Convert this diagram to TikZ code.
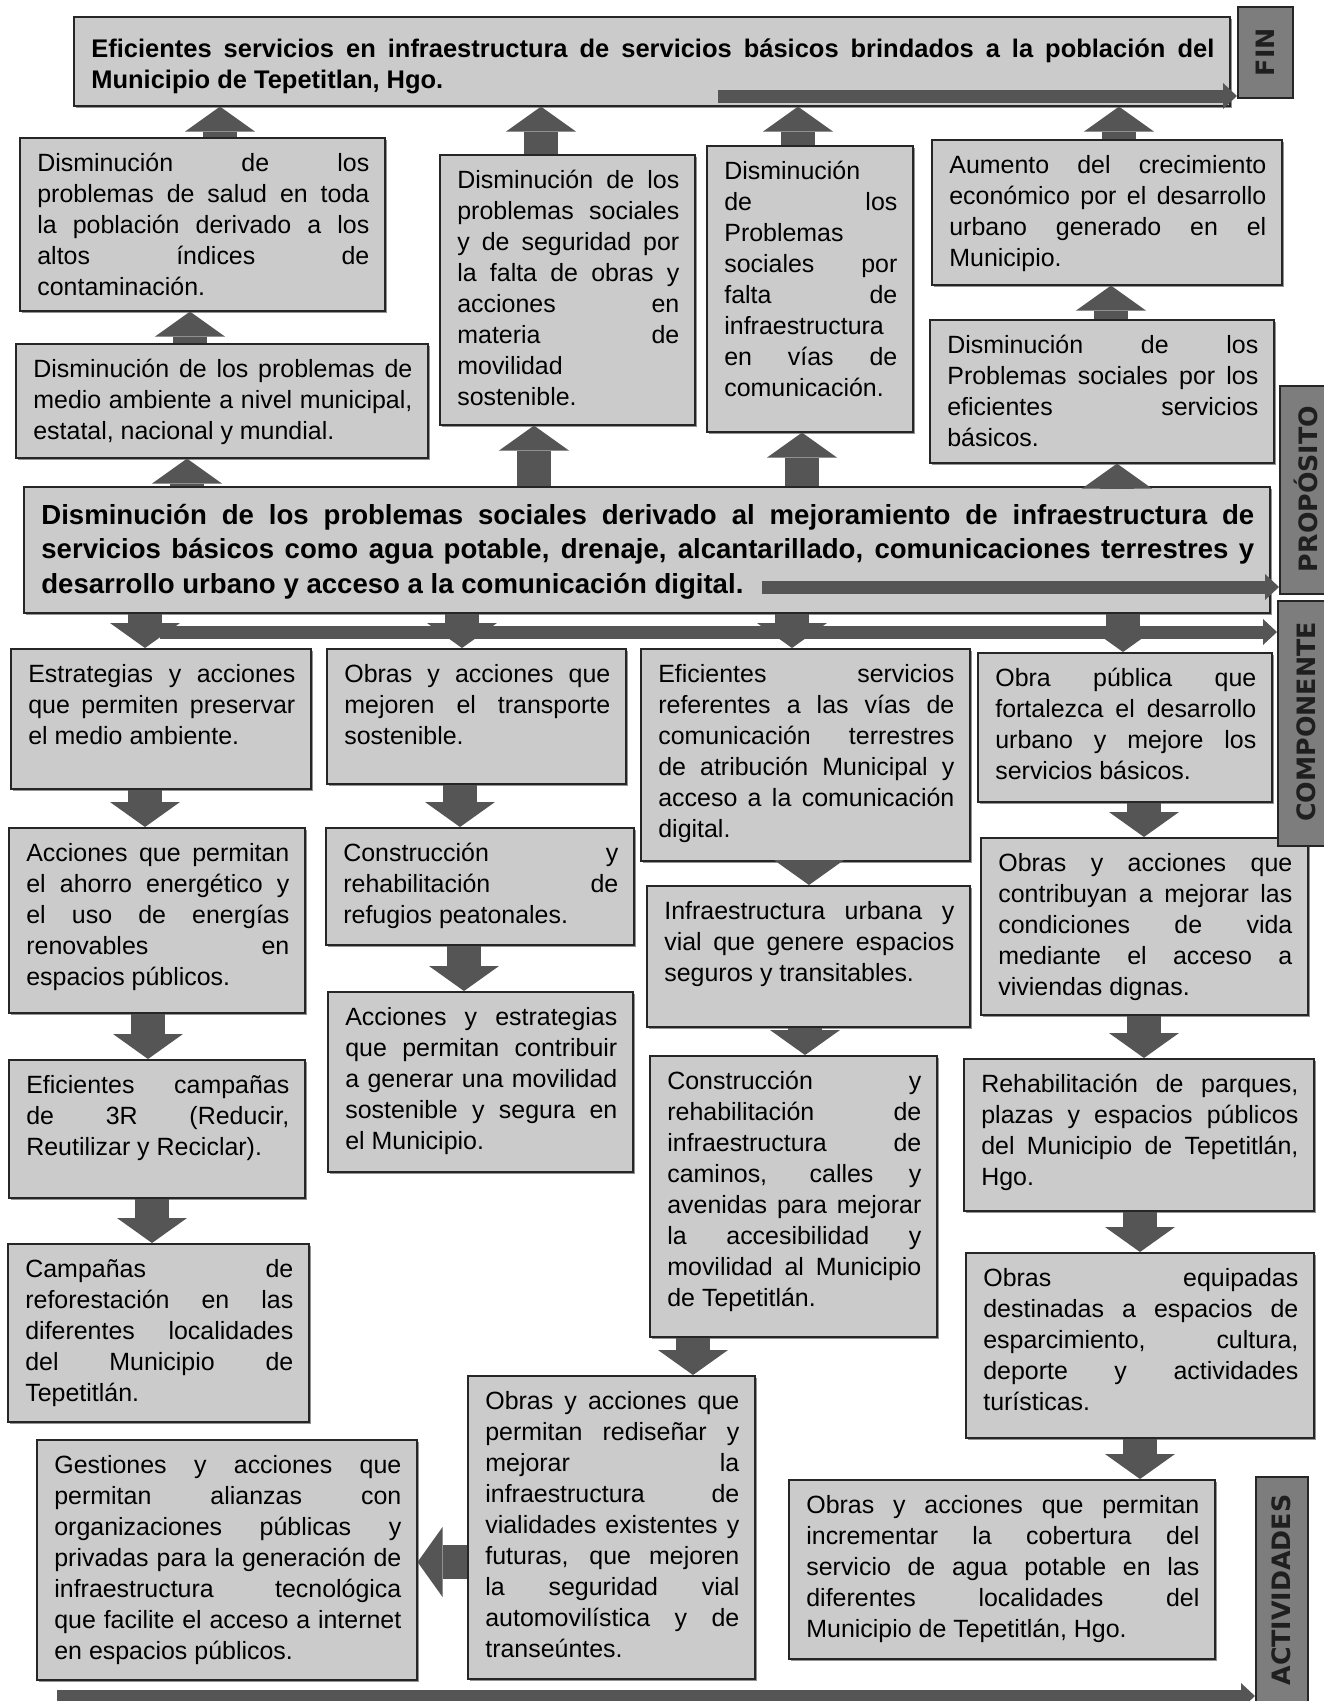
\documentclass[tikz,border=0pt]{standalone}
\usepackage{fontspec}
\setmainfont{Liberation Sans}
\newfontfamily\rotulofont{DejaVu Sans}
\usetikzlibrary{arrows.meta,calc,positioning,shadows}

\definecolor{cajagris}{RGB}{203,203,203}
\definecolor{flechagris}{RGB}{85,85,85}
\definecolor{rotulogris}{RGB}{125,125,125}

\hyphenpenalty=10000
\exhyphenpenalty=10000
\tolerance=10000
\hbadness=10000

\tikzset{
  caja/.style={draw=black!85, line width=0.9pt, fill=cajagris, inner sep=0pt,
    drop shadow={shadow xshift=1.2pt, shadow yshift=-1.2pt, fill=black!60, opacity=.7}},
  texto/.style={inner sep=0pt, align=justify, font=\fontsize{14.2}{17.7}\selectfont},
  textofin/.style={texto, font=\fontsize{14.5}{17.8}\selectfont\bfseries, yshift=-0.14cm},
  textoprop/.style={texto, font=\fontsize{15.7}{19.9}\selectfont\bfseries, yshift=-0.08cm},
  flecha/.style={flechagris, line width=0.68cm, -{Triangle[length=0.5cm, width=1.4cm, line width=0pt 0 0]}},
  barra/.style={flechagris, line width=0.26cm, -{Triangle[length=0.28cm, width=0.52cm, line width=0pt 0 0]}},
  rotulo/.style={draw=black!85, line width=0.9pt, fill=rotulogris, inner sep=0pt},
  rotulotexto/.style={rotate=90, inner sep=0pt, text=black!88,
    font=\rotulofont\bfseries\fontsize{14.4}{17}\selectfont},
}

% caja con texto arriba: [estilo]{nombre}{x1}{y1}{x2}{y2}{texto}
\newcommand{\caja}[7][texto]{%
  \node[caja, anchor=north west, minimum width={(#5-#3)*0.02cm},
    minimum height={(#6-#4)*0.02cm}] (#2) at (#3,#4) {};
  \pgfmathsetmacro{\anchotexto}{(#5-#3-33)*0.02}%
  \node[#1, anchor=base west, text width=\anchotexto cm] (#2t)
    at ([shift={(18,34)}]#2.north west) {#7};
}

\begin{document}
\begin{tikzpicture}[x=0.02cm, y=-0.02cm]
  \useasboundingbox (0,0) rectangle (1324,1701);
  \clip (0,0) rectangle (1324,1701);
  \fill[white] (0,0) rectangle (1324,1701);

  % fin
  \caja[textofin]{fin}{73}{16}{1229}{105}{Eficientes servicios en infraestructura de servicios básicos brindados a la población del\linebreak Municipio de Tepetitlan, Hgo.}

  % efectos
  \caja{salud}{19}{137}{384}{310}{Disminución de los\linebreak problemas de salud en toda\linebreak la población derivado a los\linebreak altos índices de\linebreak contaminación.}
  \caja{ambiente}{15}{343}{427}{457}{Disminución de los problemas de\linebreak medio ambiente a nivel municipal,\linebreak estatal, nacional y mundial.}
  \caja{seguridad}{439}{154}{694}{424}{Disminución de los\linebreak problemas sociales\linebreak y de seguridad por\linebreak la falta de obras y\linebreak acciones en\linebreak materia de\linebreak movilidad\linebreak sostenible.}
  \caja{vias}{706}{145}{912}{431}{Disminución\linebreak de los\linebreak Problemas\linebreak sociales por\linebreak falta de\linebreak infraestructura\linebreak en vías de\linebreak comunicación.}
  \caja{economico}{931}{139}{1281}{284}{Aumento del crecimiento\linebreak económico por el desarrollo\linebreak urbano generado en el\linebreak Municipio.}
  \caja{servicios}{929}{319}{1273}{462}{Disminución de los\linebreak Problemas sociales por los\linebreak eficientes servicios\linebreak básicos.}

  % proposito
  \caja[textoprop]{proposito}{23}{486}{1269}{612}{Disminución de los problemas sociales derivado al mejoramiento de infraestructura de\linebreak servicios básicos como agua potable, drenaje, alcantarillado, comunicaciones terrestres y\linebreak desarrollo urbano y acceso a la comunicación digital.}

  % componentes
  \caja{medio}{10}{648}{310}{788}{Estrategias y acciones\linebreak que permiten preservar\linebreak el medio ambiente.}
  \caja{transporte}{326}{648}{625}{783}{Obras y acciones que\linebreak mejoren el transporte\linebreak sostenible.}
  \caja{comunicacion}{640}{648}{969}{860}{Eficientes servicios\linebreak referentes a las vías de\linebreak comunicación terrestres\linebreak de atribución Municipal y\linebreak acceso a la comunicación\linebreak digital.}
  \caja{urbano}{977}{652}{1271}{801}{Obra pública que\linebreak fortalezca el desarrollo\linebreak urbano y mejore los\linebreak servicios básicos.}

  % actividades
  \caja{act11}{8}{827}{304}{1012}{Acciones que permitan\linebreak el ahorro energético y\linebreak el uso de energías\linebreak renovables en\linebreak espacios públicos.}
  \caja{act12}{8}{1059}{304}{1197}{Eficientes campañas\linebreak de 3R (Reducir,\linebreak Reutilizar y Reciclar).}
  \caja{act13}{7}{1243}{308}{1421}{Campañas de\linebreak reforestación en las\linebreak diferentes localidades\linebreak del Municipio de\linebreak Tepetitlán.}
  \caja{act21}{325}{827}{633}{944}{Construcción y\linebreak rehabilitación de\linebreak refugios peatonales.}
  \caja{act22}{327}{991}{632}{1171}{Acciones y estrategias\linebreak que permitan contribuir\linebreak a generar una movilidad\linebreak sostenible y segura en\linebreak el Municipio.}
  \caja{act31}{646}{885}{969}{1026}{Infraestructura urbana y\linebreak vial que genere espacios\linebreak seguros y transitables.}
  \caja{act32}{649}{1055}{936}{1336}{Construcción y\linebreak rehabilitación de\linebreak infraestructura de\linebreak caminos, calles y\linebreak avenidas para mejorar\linebreak la accesibilidad y\linebreak movilidad al Municipio\linebreak de Tepetitlán.}
  \caja{act33}{467}{1375}{754}{1678}{Obras y acciones que\linebreak permitan rediseñar y\linebreak mejorar la\linebreak infraestructura de\linebreak vialidades existentes y\linebreak futuras, que mejoren\linebreak la seguridad vial\linebreak automovilística y de\linebreak transeúntes.}
  \caja{act34}{36}{1439}{416}{1679}{Gestiones y acciones que\linebreak permitan alianzas con\linebreak organizaciones públicas y\linebreak privadas para la generación de\linebreak infraestructura tecnológica\linebreak que facilite el acceso a internet\linebreak en espacios públicos.}
  \caja{act41}{980}{837}{1307}{1014}{Obras y acciones que\linebreak contribuyan a mejorar las\linebreak condiciones de vida\linebreak mediante el acceso a\linebreak viviendas dignas.}
  \caja{act42}{963}{1058}{1313}{1210}{Rehabilitación de parques,\linebreak plazas y espacios públicos\linebreak del Municipio de Tepetitlán,\linebreak Hgo.}
  \caja{act43}{965}{1252}{1313}{1437}{Obras equipadas\linebreak destinadas a espacios de\linebreak esparcimiento, cultura,\linebreak deporte y actividades\linebreak turísticas.}
  \caja{act44}{788}{1479}{1214}{1658}{Obras y acciones que permitan\linebreak incrementar la cobertura del\linebreak servicio de agua potable en las\linebreak diferentes localidades del\linebreak Municipio de Tepetitlán, Hgo.}

  % flechas hacia el fin
  \draw[flecha] (salud.north -| 220,0) -- (fin.south -| 220,0);
  \draw[flecha] (seguridad.north -| 541,0) -- (fin.south -| 541,0);
  \draw[flecha] (vias.north -| 798,0) -- (fin.south -| 798,0);
  \draw[flecha] (economico.north -| 1119,0) -- (fin.south -| 1119,0);
  \draw[flecha] (ambiente.north -| 190,0) -- (salud.south -| 190,0);
  \draw[flecha] (servicios.north -| 1111,0) -- (economico.south -| 1111,0);
  \draw[flecha] (proposito.north -| 187,0) -- (ambiente.south -| 187,0);
  \draw[flecha] (proposito.north -| 534,0) -- (seguridad.south -| 534,0);
  \draw[flecha] (proposito.north -| 802,0) -- (vias.south -| 802,0);
  \draw[flecha] (proposito.north -| 1117,0) -- (servicios.south -| 1117,0);

  % flechas hacia componentes y actividades
  \draw[flecha] (proposito.south -| 145,0) -- (medio.north -| 145,0);
  \draw[flecha] (proposito.south -| 462,0) -- (transporte.north -| 462,0);
  \draw[flecha] (proposito.south -| 792,0) -- (comunicacion.north -| 792,0);
  \draw[flecha] (proposito.south -| 1123,0) -- (urbano.north -| 1123,0);
  \draw[flecha] (medio.south -| 145,0) -- (act11.north -| 145,0);
  \draw[flecha] (act11.south -| 148,0) -- (act12.north -| 148,0);
  \draw[flecha] (act12.south -| 152,0) -- (act13.north -| 152,0);
  \draw[flecha] (transporte.south -| 460,0) -- (act21.north -| 460,0);
  \draw[flecha] (act21.south -| 464,0) -- (act22.north -| 464,0);
  \draw[flecha] (comunicacion.south -| 809,0) -- (act31.north -| 809,0);
  \draw[flecha] (act31.south -| 805,0) -- (act32.north -| 805,0);
  \draw[flecha] (act32.south -| 693,0) -- (act33.north -| 693,0);
  \draw[flecha] (act33.west |- 0,1562) -- (act34.east |- 0,1562);
  \draw[flecha] (urbano.south -| 1144,0) -- (act41.north -| 1144,0);
  \draw[flecha] (act41.south -| 1144,0) -- (act42.north -| 1144,0);
  \draw[flecha] (act42.south -| 1140,0) -- (act43.north -| 1140,0);
  \draw[flecha] (act43.south -| 1140,0) -- (act44.north -| 1140,0);

  % rotulos
  \node[rotulo, anchor=north west, minimum width=55*0.02cm, minimum height=91*0.02cm] (etfin) at (1237,6) {};
  \node[rotulotexto] (etfint) at (etfin.center) {FIN};
  \node[rotulo, anchor=north west, minimum width=60*0.02cm, minimum height=208*0.02cm] (etprop) at (1279,385) {};
  \node[rotulotexto] (etpropt) at (1306,489) {PROPÓSITO};
  \node[rotulo, anchor=north west, minimum width=60*0.02cm, minimum height=245*0.02cm] (etcomp) at (1277,600) {};
  \node[rotulotexto] (etcompt) at (1306,722) {COMPONENTE};
  \node[rotulo, anchor=north west, minimum width=52*0.02cm, minimum height=240*0.02cm] (etact) at (1255,1476) {};
  \node[rotulotexto] (etactt) at (1281,1590) {ACTIVIDADES};

  % barras
  \coordinate (inifin) at (718,96);
  \coordinate (iniprop) at (762,587);
  \coordinate (inicomp) at (160,632);
  \coordinate (iniact) at (57,1696);
  \draw[barra] (inifin) -- (inifin -| etfin.west);
  \draw[barra] (iniprop) -- (iniprop -| etprop.west);
  \draw[barra] (inicomp) -- (inicomp -| etcomp.west);
  \draw[barra] (iniact) -- (iniact -| etact.west);
\end{tikzpicture}
\end{document}
